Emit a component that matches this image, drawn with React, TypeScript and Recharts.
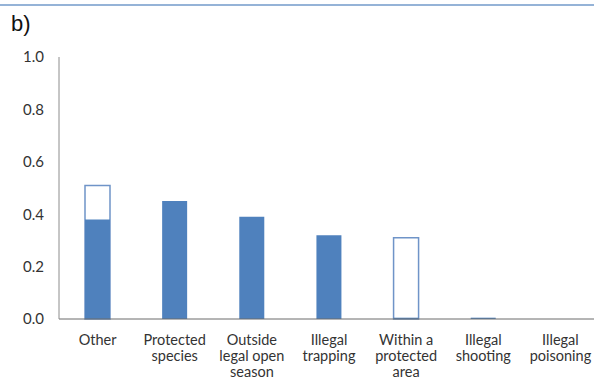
import { FC } from "react";
import { Bar, BarChart, XAxis, YAxis } from "recharts";

const categories = [
  "Other",
  "Protected\nspecies",
  "Outside\nlegal open\nseason",
  "Illegal\ntrapping",
  "Within a\nprotected\narea",
  "Illegal\nshooting",
  "Illegal\npoisoning",
];
const solidValues = [0.38, 0.45, 0.39, 0.32, 0.005, 0.005, 0];
const outlineValues = [0.51, 0, 0, 0, 0.31, 0, 0];
const yTicks = [0, 0.2, 0.4, 0.6, 0.8, 1.0];

const data = categories.map((name, i) => ({
  name,
  solid: solidValues[i],
  outline: outlineValues[i],
}));

const FONT = "Lato, 'Open Sans', sans-serif";

const CategoryTick: FC<any> = ({ x, y, payload }) => {
  const lines = String(payload.value).split("\n");
  return (
    <text x={x} y={y + 18} textAnchor="middle" fontSize={14.5} fill="#333" fontFamily={FONT}>
      {lines.map((l, i) => (
        <tspan key={i} x={x} dy={i === 0 ? 0 : 16}>
          {l}
        </tspan>
      ))}
    </text>
  );
};

const App: FC = () => {
  return (
    <div
      style={{
        position: "absolute",
        left: 0,
        top: 0,
        width: 594,
        height: 387,
        overflow: "hidden",
        background: "#fff",
        fontFamily: FONT,
      }}
    >
      <div style={{ position: "absolute", left: 0, top: 4, width: 594, height: 2, background: "#95b3d7" }} />
      <div style={{ position: "absolute", left: 11, top: 11, fontSize: 22, color: "#111", fontFamily: "'Liberation Sans', Arial, sans-serif" }}>
        b)
      </div>
      <BarChart
        width={600}
        height={387}
        data={data}
        margin={{ top: 57, right: 1, bottom: 0, left: 0 }}
        barGap={-25}
        barSize={25}
      >
        <XAxis
          dataKey="name"
          interval={0}
          tickLine={false}
          axisLine={{ stroke: "#6b6b6b" }}
          tick={<CategoryTick />}
          height={68}
        />
        <YAxis
          domain={[0, 1]}
          ticks={yTicks}
          width={59}
          tickLine={false}
          tickMargin={9}
          axisLine={{ stroke: "#8c8c8c" }}
          tickFormatter={(v: number) => v.toFixed(1)}
          tick={{ fontSize: 15, fill: "#333", fontFamily: FONT }}
        />
        <Bar dataKey="outline" fill="#fff" stroke="#6f94c8" strokeWidth={1.5} isAnimationActive={false} />
        <Bar dataKey="solid" fill="#4f81bd" isAnimationActive={false} />
      </BarChart>
    </div>
  );
};

export default App;
